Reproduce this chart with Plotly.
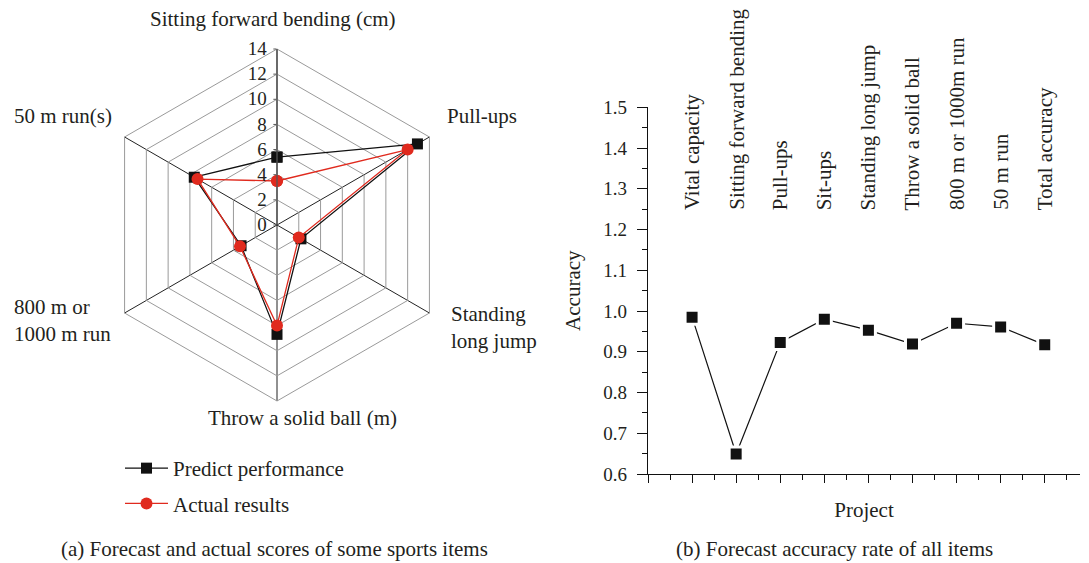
import plotly.graph_objects as go

# ---------------- data ----------------
radar_categories = ["Sitting forward bending (cm)", "Pull-ups", "Standing long jump",
                    "Throw a solid ball (m)", "800 m or 1000 m run", "50 m run(s)"]
radar_label_text = ["Sitting forward bending (cm)", "Pull-ups", "Standing<br>long jump",
                    "Throw a solid ball (m)", "800 m or<br>1000 m run", "50 m run(s)"]
predict_values = [5.4, 12.9, 2.2, 8.7, 3.3, 7.6]
actual_values = [3.5, 12.0, 2.0, 8.0, 3.4, 7.3]
radial_ticks = [0, 2, 4, 6, 8, 10, 12, 14]

project_labels = ["Vital capacity", "Sitting forward bending", "Pull-ups", "Sit-ups",
                  "Standing long jump", "Throw a solid ball", "800 m or 1000m run",
                  "50 m run", "Total accuracy"]
project_positions = [1, 2, 3, 4, 5, 6, 7, 8, 9]
accuracy_values = [0.985, 0.649, 0.923, 0.980, 0.953, 0.919, 0.970, 0.961, 0.917]
accuracy_ticks = [0.6, 0.7, 0.8, 0.9, 1.0, 1.1, 1.2, 1.3, 1.4, 1.5]

SERIF = "Liberation Serif, Times New Roman, serif"
RED = "#E02A1E"

# the page body has an 8px margin: size the figure so it fits the window
OFF = 8
W, H = 1089 - OFF, 563 - OFF


def px(x):  # window pixel x -> paper fraction
    return (x - OFF) / W


def py(y):  # window pixel y -> paper fraction
    return (H - (y - OFF)) / H


fig = go.Figure()

theta_closed = radar_categories + radar_categories[:1]
fig.add_trace(go.Scatterpolar(
    r=predict_values + predict_values[:1], theta=theta_closed,
    mode="lines+markers", name="Predict performance",
    line=dict(color="#111111", width=1.3),
    marker=dict(symbol="square", size=11, color="#111111"),
    legendgroup="a", subplot="polar"))
fig.add_trace(go.Scatterpolar(
    r=actual_values + actual_values[:1], theta=theta_closed,
    mode="lines+markers", name="Actual results",
    line=dict(color=RED, width=1.3),
    marker=dict(symbol="circle", size=12, color=RED),
    legendgroup="b", subplot="polar"))

fig.add_trace(go.Scatter(
    x=project_positions, y=accuracy_values, mode="lines+markers",
    line=dict(color="#111111", width=1.2),
    marker=dict(symbol="square", size=14, color="#111111",
                line=dict(color="white", width=3)),
    showlegend=False, xaxis="x", yaxis="y"))

cx, cy, R = 277, 225, 176

fig.update_layout(
    width=W, height=H,
    margin=dict(l=0, r=0, t=0, b=0, autoexpand=False),
    paper_bgcolor="white", plot_bgcolor="white",
    font=dict(family=SERIF, size=21, color="#231f20"),
    polar=dict(
        domain=dict(x=[px(cx - R), px(cx + R)],
                    y=[py(cy + R), py(cy - R)]),
        gridshape="linear",
        bgcolor="white",
        radialaxis=dict(range=[0, 14], tickvals=radial_ticks, angle=90,
                        side="counterclockwise", tickangle=90,
                        showline=True, linecolor="#555555", linewidth=1.3,
                        gridcolor="#9a9a9a", gridwidth=1,
                        ticks="outside", ticklen=3, tickcolor="#555555",
                        tickfont=dict(size=19, family=SERIF)),
        angularaxis=dict(rotation=90, direction="clockwise",
                         showline=True, linecolor="#9a9a9a", linewidth=1,
                         gridcolor="#222222", gridwidth=1.2,
                         ticks="", showticklabels=False),
    ),
    xaxis=dict(domain=[px(648), px(1080)], range=[0, 9.8],
               tickvals=list(range(10)), showticklabels=False,
               ticks="outside", ticklen=8, tickwidth=1.2, tickcolor="#111111",
               minor=dict(dtick=0.5, tick0=0, ticks="outside", ticklen=5,
                          tickwidth=1.2, tickcolor="#111111", showgrid=False),
               showline=True, linecolor="#111111", linewidth=1.3,
               showgrid=False, zeroline=False,
               title=dict(text="Project", standoff=20, font=dict(size=21))),
    yaxis=dict(domain=[py(474), py(107.3)], range=[0.6, 1.5],
               tickvals=accuracy_ticks, ticktext=[f"{v:.1f}" for v in accuracy_ticks],
               ticks="outside", ticklen=10, tickwidth=1.2, tickcolor="#111111",
               minor=dict(dtick=0.05, tick0=0.6, ticks="outside", ticklen=5,
                          tickwidth=1.2, tickcolor="#111111", showgrid=False),
               showline=True, linecolor="#111111", linewidth=1.3,
               showgrid=False, zeroline=False, ticklabelstandoff=6,
               tickfont=dict(size=19),
               title=dict(text="Accuracy", standoff=16, font=dict(size=21))),
    legend=dict(x=px(120), y=py(448), xanchor="left", yanchor="top",
                bgcolor="rgba(0,0,0,0)", font=dict(size=21),
                traceorder="grouped", tracegroupgap=5, itemwidth=43),
    showlegend=True,
)

annotations = []
# radar category labels (window pixel positions: x, y-center, xanchor)
radar_label_pos = [(272.5, 19, "center"), (445, 116, "left"), (449, 327, "left"),
                   (302.5, 418, "center"), (12, 320, "left"), (12, 116, "left")]
for txt, (lx, ly, xa) in zip(radar_label_text, radar_label_pos):
    annotations.append(dict(x=px(lx), y=py(ly), xref="paper", yref="paper",
                            text=txt, showarrow=False, xanchor=xa, yanchor="middle",
                            align="left" if xa == "left" else "center",
                            font=dict(size=21)))
for pos, lab in zip(project_positions, project_labels):
    annotations.append(dict(x=pos, y=1.243, xref="x", yref="y", text=lab,
                            textangle=-90, showarrow=False, xanchor="center",
                            yanchor="bottom", font=dict(size=21)))
annotations.append(dict(x=px(274), y=py(549), xref="paper", yref="paper",
                        text="(a) Forecast and actual scores of some sports items",
                        showarrow=False, xanchor="center", yanchor="middle",
                        font=dict(size=21)))
annotations.append(dict(x=px(834), y=py(549), xref="paper", yref="paper",
                        text="(b) Forecast accuracy rate of all items",
                        showarrow=False, xanchor="center", yanchor="middle",
                        font=dict(size=21)))
fig.update_layout(annotations=annotations)

fig.write_html("out.html")
